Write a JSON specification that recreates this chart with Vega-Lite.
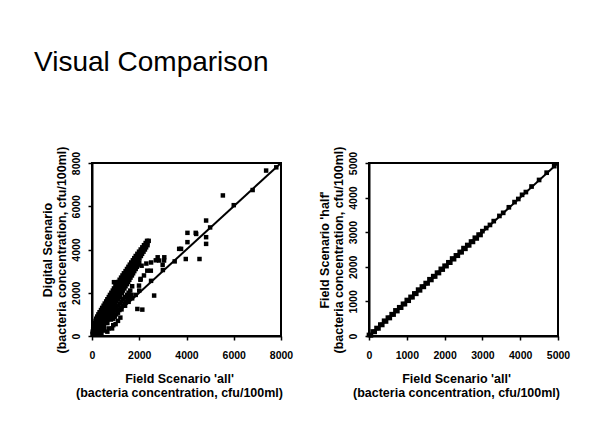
{
  "$schema": "https://vega.github.io/schema/vega-lite/v6.json",
  "background": "white",
  "padding": {"left": 34, "top": 48, "right": 0, "bottom": 0},
  "title": {"text": "Visual Comparison", "anchor": "start", "font": "Liberation Sans", "fontSize": 28, "fontWeight": "normal", "color": "black", "offset": 68, "dx": -6},
  "spacing": 23,
  "datasets": {
    "left": [
      {"x":20,"y":100},{"x":60,"y":100},{"x":110,"y":100},{"x":150,"y":100},
      {"x":30,"y":200},{"x":90,"y":200},{"x":160,"y":200},{"x":230,"y":200},
      {"x":50,"y":300},{"x":130,"y":300},{"x":200,"y":300},{"x":280,"y":300},{"x":360,"y":300},
      {"x":60,"y":400},{"x":150,"y":400},{"x":230,"y":400},{"x":310,"y":400},{"x":420,"y":400},
      {"x":90,"y":500},{"x":190,"y":500},{"x":280,"y":500},{"x":370,"y":500},{"x":480,"y":500},
      {"x":120,"y":600},{"x":230,"y":600},{"x":330,"y":600},{"x":440,"y":600},{"x":560,"y":600},
      {"x":150,"y":700},{"x":270,"y":700},{"x":390,"y":700},{"x":500,"y":700},{"x":620,"y":700},
      {"x":180,"y":800},{"x":310,"y":800},{"x":440,"y":800},{"x":560,"y":800},{"x":700,"y":800},{"x":900,"y":800},
      {"x":220,"y":900},{"x":360,"y":900},{"x":500,"y":900},{"x":630,"y":900},{"x":780,"y":900},{"x":960,"y":900},
      {"x":270,"y":1000},{"x":410,"y":1000},{"x":550,"y":1000},{"x":690,"y":1000},{"x":840,"y":1000},{"x":1020,"y":1000},
      {"x":320,"y":1100},{"x":460,"y":1100},{"x":610,"y":1100},{"x":750,"y":1100},{"x":900,"y":1100},{"x":1090,"y":1100},
      {"x":380,"y":1200},{"x":520,"y":1200},{"x":660,"y":1200},{"x":800,"y":1200},{"x":960,"y":1200},{"x":1160,"y":1200},
      {"x":430,"y":1300},{"x":570,"y":1300},{"x":720,"y":1300},{"x":860,"y":1300},{"x":1030,"y":1300},{"x":1220,"y":1300},
      {"x":490,"y":1400},{"x":630,"y":1400},{"x":780,"y":1400},{"x":920,"y":1400},{"x":1100,"y":1400},{"x":1300,"y":1400},
      {"x":540,"y":1500},{"x":690,"y":1500},{"x":830,"y":1500},{"x":980,"y":1500},{"x":1180,"y":1500},{"x":1380,"y":1500},
      {"x":600,"y":1600},{"x":740,"y":1600},{"x":890,"y":1600},{"x":1030,"y":1600},{"x":1250,"y":1600},{"x":1450,"y":1600},
      {"x":650,"y":1700},{"x":800,"y":1700},{"x":940,"y":1700},{"x":1090,"y":1700},{"x":1320,"y":1700},{"x":1520,"y":1700},
      {"x":710,"y":1800},{"x":860,"y":1800},{"x":1000,"y":1800},{"x":1150,"y":1800},{"x":1400,"y":1800},{"x":1600,"y":1800},
      {"x":760,"y":1900},{"x":910,"y":1900},{"x":1060,"y":1900},{"x":1200,"y":1900},{"x":1480,"y":1900},{"x":1670,"y":1900},
      {"x":820,"y":2000},{"x":970,"y":2000},{"x":1110,"y":2000},{"x":1260,"y":2000},{"x":1550,"y":2000},
      {"x":880,"y":2100},{"x":1020,"y":2100},{"x":1170,"y":2100},{"x":1310,"y":2100},{"x":1620,"y":2100},
      {"x":930,"y":2200},{"x":1080,"y":2200},{"x":1220,"y":2200},{"x":1370,"y":2200},
      {"x":990,"y":2300},{"x":1130,"y":2300},{"x":1280,"y":2300},{"x":1420,"y":2300},
      {"x":1050,"y":2400},{"x":1190,"y":2400},{"x":1330,"y":2400},{"x":1480,"y":2400},
      {"x":1110,"y":2500},{"x":1250,"y":2500},{"x":1390,"y":2500},{"x":1530,"y":2500},
      {"x":1170,"y":2600},{"x":1300,"y":2600},{"x":1440,"y":2600},{"x":1580,"y":2600},
      {"x":1230,"y":2700},{"x":1360,"y":2700},{"x":1500,"y":2700},{"x":1630,"y":2700},
      {"x":1290,"y":2800},{"x":1420,"y":2800},{"x":1560,"y":2800},{"x":1690,"y":2800},
      {"x":1350,"y":2900},{"x":1480,"y":2900},{"x":1610,"y":2900},{"x":1740,"y":2900},
      {"x":1420,"y":3000},{"x":1540,"y":3000},{"x":1670,"y":3000},{"x":1790,"y":3000},
      {"x":1480,"y":3100},{"x":1600,"y":3100},{"x":1720,"y":3100},{"x":1850,"y":3100},
      {"x":1540,"y":3200},{"x":1660,"y":3200},{"x":1780,"y":3200},{"x":1900,"y":3200},
      {"x":1600,"y":3300},{"x":1720,"y":3300},{"x":1830,"y":3300},{"x":1950,"y":3300},
      {"x":1660,"y":3400},{"x":1780,"y":3400},{"x":1890,"y":3400},{"x":2000,"y":3400},
      {"x":1730,"y":3500},{"x":1840,"y":3500},{"x":1950,"y":3500},
      {"x":1790,"y":3600},{"x":1900,"y":3600},{"x":2010,"y":3600},
      {"x":1850,"y":3700},{"x":1960,"y":3700},{"x":2070,"y":3700},
      {"x":1920,"y":3800},{"x":2020,"y":3800},{"x":2120,"y":3800},
      {"x":1990,"y":3900},{"x":2090,"y":3900},{"x":2180,"y":3900},
      {"x":2060,"y":4000},{"x":2150,"y":4000},{"x":2240,"y":4000},
      {"x":2130,"y":4100},{"x":2220,"y":4100},{"x":2290,"y":4100},
      {"x":2200,"y":4200},{"x":2280,"y":4200},{"x":2350,"y":4200},
      {"x":2270,"y":4300},{"x":2340,"y":4300},
      {"x":2330,"y":4400},{"x":2400,"y":4400},
      {"x":350,"y":300},{"x":500,"y":420},{"x":650,"y":600},{"x":800,"y":760},{"x":950,"y":900},{"x":1100,"y":1080},
      {"x":1250,"y":1230},{"x":1400,"y":1400},{"x":1550,"y":1580},{"x":1700,"y":1740},{"x":1850,"y":1900},{"x":2000,"y":2100},
      {"x":300,"y":100},{"x":400,"y":150},{"x":500,"y":250},{"x":650,"y":200},{"x":700,"y":350},{"x":850,"y":350},
      {"x":900,"y":500},{"x":1000,"y":550},{"x":1100,"y":700},{"x":1200,"y":850},
      {"x":2340,"y":3020},{"x":2490,"y":3020},{"x":1990,"y":2330},{"x":930,"y":2490},{"x":2630,"y":1870},
      {"x":1920,"y":1250},{"x":2130,"y":1220},{"x":3690,"y":4030},{"x":4040,"y":4770},{"x":4390,"y":4770},
      {"x":4040,"y":4340},{"x":3970,"y":3560},{"x":7370,"y":7650},{"x":5540,"y":6500},{"x":4830,"y":5340},
      {"x":4410,"y":4720},{"x":4830,"y":4570},{"x":4830,"y":4260},{"x":3770,"y":4030},{"x":4550,"y":3560},
      {"x":2780,"y":3640},{"x":3060,"y":3640},{"x":2990,"y":3290},{"x":2840,"y":3490},{"x":3050,"y":3490},
      {"x":2100,"y":3250},{"x":2300,"y":3350},{"x":2500,"y":3400},{"x":2700,"y":3500},{"x":2060,"y":2640},
      {"x":2200,"y":2800},{"x":1700,"y":2300},{"x":2050,"y":2600},
      {"x":2500,"y":2550},{"x":3000,"y":3050},{"x":3500,"y":3450},{"x":5000,"y":5020},{"x":6000,"y":6050},{"x":6800,"y":6750},{"x":7800,"y":7800}
    ],
    "right": [
      {"x":0,"y":30},{"x":50,"y":20},{"x":100,"y":130},{"x":150,"y":120},{"x":200,"y":230},{"x":250,"y":220},
      {"x":300,"y":330},{"x":350,"y":320},{"x":400,"y":440},{"x":450,"y":420},{"x":500,"y":530},{"x":550,"y":520},
      {"x":600,"y":630},{"x":650,"y":620},{"x":700,"y":740},{"x":750,"y":720},{"x":800,"y":830},{"x":850,"y":820},
      {"x":900,"y":930},{"x":950,"y":920},{"x":1000,"y":1040},{"x":1050,"y":1020},{"x":1100,"y":1130},{"x":1150,"y":1120},
      {"x":1200,"y":1230},{"x":1250,"y":1220},{"x":1300,"y":1340},{"x":1350,"y":1320},{"x":1400,"y":1430},{"x":1450,"y":1420},
      {"x":1500,"y":1530},{"x":1550,"y":1520},{"x":1600,"y":1640},{"x":1650,"y":1620},{"x":1700,"y":1730},{"x":1750,"y":1720},
      {"x":1800,"y":1830},{"x":1850,"y":1820},{"x":1900,"y":1940},{"x":1950,"y":1920},{"x":2000,"y":2030},{"x":2050,"y":2020},
      {"x":2100,"y":2130},{"x":2150,"y":2120},{"x":2200,"y":2240},{"x":2250,"y":2220},{"x":2300,"y":2330},{"x":2350,"y":2320},
      {"x":2400,"y":2430},{"x":2450,"y":2420},{"x":2500,"y":2540},{"x":2550,"y":2520},{"x":2600,"y":2630},{"x":2650,"y":2620},
      {"x":2700,"y":2730},{"x":2750,"y":2720},{"x":2800,"y":2840},{"x":2850,"y":2820},{"x":2900,"y":2930},{"x":2950,"y":2920},
      {"x":3000,"y":3030},{"x":3100,"y":3120},{"x":3200,"y":3210},{"x":3300,"y":3320},{"x":3450,"y":3470},{"x":3550,"y":3560},
      {"x":3700,"y":3720},{"x":3850,"y":3870},{"x":3950,"y":3960},{"x":4050,"y":4080},{"x":4150,"y":4160},{"x":4300,"y":4320},
      {"x":4500,"y":4510},{"x":4700,"y":4720},{"x":4900,"y":4910}
    ],
    "diagL": [{"x":0,"y":0},{"x":8000,"y":8000}],
    "diagR": [{"x":0,"y":0},{"x":5000,"y":5000}]
  },
  "hconcat": [
    {
      "width": 189, "height": 173,
      "encoding": {
        "x": {"field": "x", "type": "quantitative", "scale": {"domain": [0, 8000], "nice": false},
              "axis": {"values": [0, 2000, 4000, 6000, 8000], "format": "d", "labelOverlap": false, "labelFlush": false, "title": ["Field Scenario 'all'", "(bacteria concentration, cfu/100ml)"], "titleX": 87}},
        "y": {"field": "y", "type": "quantitative", "scale": {"domain": [0, 8000], "nice": false},
              "axis": {"values": [0, 2000, 4000, 6000, 8000], "format": "d", "labelOverlap": false, "labelFlush": false, "title": ["Digital Scenario", "(bacteria concentration, cfu/100ml)"]}}
      },
      "layer": [
        {
          "data": {"name": "left"},
          "mark": {"type": "point", "shape": "square", "filled": true, "size": 20, "color": "black", "opacity": 1}
        },
        {
          "data": {"name": "diagL"},
          "mark": {"type": "line", "color": "black", "strokeWidth": 2}
        }
      ]
    },
    {
      "width": 189, "height": 173,
      "encoding": {
        "x": {"field": "x", "type": "quantitative", "scale": {"domain": [0, 5000], "nice": false},
              "axis": {"values": [0, 1000, 2000, 3000, 4000, 5000], "format": "d", "labelOverlap": false, "labelFlush": false, "title": ["Field Scenario 'all'", "(bacteria concentration, cfu/100ml)"], "titleX": 87}},
        "y": {"field": "y", "type": "quantitative", "scale": {"domain": [0, 5000], "nice": false},
              "axis": {"values": [0, 1000, 2000, 3000, 4000, 5000], "format": "d", "labelOverlap": false, "labelFlush": false, "title": ["Field Scenario 'half'", "(bacteria concentration, cfu/100ml)"]}}
      },
      "layer": [
        {
          "data": {"name": "right"},
          "mark": {"type": "point", "shape": "square", "filled": true, "size": 22, "color": "black", "opacity": 1}
        },
        {
          "data": {"name": "diagR"},
          "mark": {"type": "line", "color": "black", "strokeWidth": 2}
        }
      ]
    }
  ],
  "config": {
    "view": {"stroke": "black", "strokeWidth": 2},
    "axis": {
      "grid": false, "domainColor": "black", "domainWidth": 2, "tickColor": "black", "tickWidth": 1.5, "tickSize": 4,
      "labelFont": "Liberation Sans", "labelFontWeight": "bold", "labelFontSize": 10.5, "labelColor": "black",
      "titleFont": "Liberation Sans", "titleFontWeight": "bold", "titleFontSize": 12.5, "titleColor": "black", "titleLineHeight": 14
    },
    "axisX": {"labelPadding": 10, "titlePadding": 12},
    "axisY": {"labelAngle": 270, "labelAlign": "center", "labelBaseline": "bottom", "labelPadding": 7, "titlePadding": 3}
  }
}
